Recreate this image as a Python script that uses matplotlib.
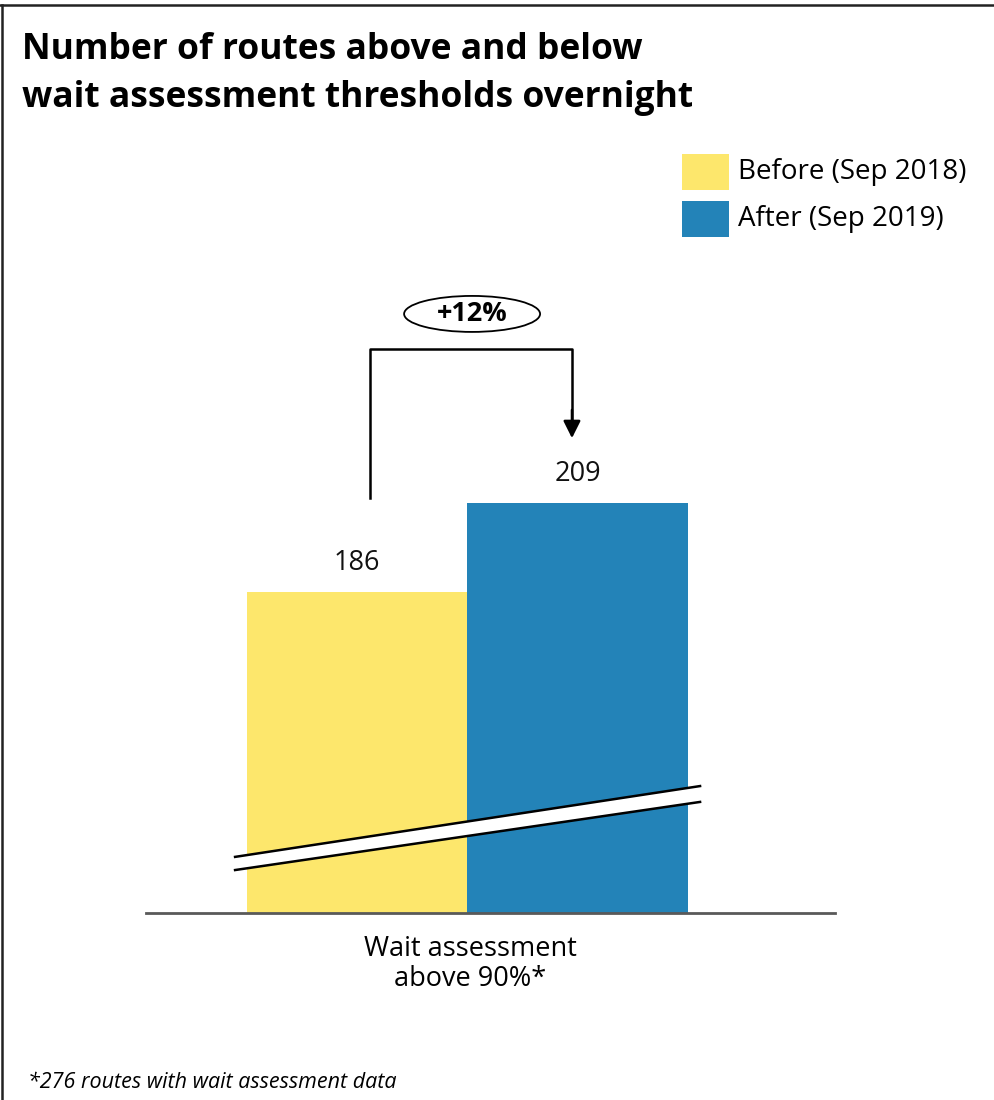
import matplotlib.pyplot as plt
from matplotlib.patches import Ellipse, Polygon, Rectangle
from matplotlib.lines import Line2D

plt.rcParams['font.family'] = ['Open Sans', 'DejaVu Sans']

# data
periods = ['Before (Sep 2018)', 'After (Sep 2019)']
routes = [186, 209]
colors = ['#FDE76C', '#2383B8']
category = 'Wait assessment\nabove 90%*'
change_label = '+12%'
footnote = '*276 routes with wait assessment data'

fig = plt.figure(figsize=(9.95, 11), dpi=100)

# axes placed in pixel terms: x 146..835, y 300..913 (from top)
W, H = 995, 1100
ax = fig.add_axes([146 / W, 1 - 913 / H, (835 - 146) / W, (913 - 300) / H])

y0 = 103  # broken axis: bars start from here
ax.bar([0, 1], routes, width=1, color=colors, bottom=0, zorder=1)
ax.set_xlim(-0.957, 2.168)
ax.set_ylim(y0, y0 + (913 - 300) / 3.87)

for i, v in enumerate(routes):
    ax.text(i, v + 7.5, str(v), ha='center', va='center', fontsize=19.5, color='#111111')

# axis break band
band = Polygon([(-0.553, 117.5), (1.556, 135.8), (1.556, 131.7), (-0.553, 114.1)],
               closed=True, facecolor='white', edgecolor='none', zorder=3)
ax.add_patch(band)
ax.plot([-0.553, 1.556], [117.5, 135.8], color='black', lw=1.8, zorder=4)
ax.plot([-0.553, 1.556], [114.1, 131.7], color='black', lw=1.8, zorder=4)

# change bracket
ax.plot([0.059, 0.059, 0.975, 0.975], [210.2, 248.7, 248.7, 230.5],
        color='black', lw=1.8, clip_on=False, zorder=5)
ax.annotate('', xy=(0.975, 225.7), xytext=(0.975, 233),
            arrowprops=dict(arrowstyle='-|>', color='black', lw=1.8,
                            mutation_scale=26, shrinkA=0, shrinkB=0),
            annotation_clip=False)
ell = Ellipse((0.522, 257.8), width=136 / 220.5, height=36 / 3.87,
              facecolor='white', edgecolor='black', lw=1.3, clip_on=False, zorder=5)
ax.add_patch(ell)
ax.text(0.522, 257.8, change_label, ha='center', va='center', fontsize=19.5,
        fontweight='bold', zorder=6)

for s in ['top', 'right', 'left']:
    ax.spines[s].set_visible(False)
ax.spines['bottom'].set_color('#595959')
ax.spines['bottom'].set_linewidth(2)
ax.spines['bottom'].set_zorder(6)
ax.set_xticks([])
ax.set_yticks([])

fig.text(470 / W, 1 - 964 / H, category, ha='center', va='center',
         fontsize=19.5, linespacing=1.05)

# legend
legend_y = [172, 219]
for lab, col, yy in zip(periods, colors, legend_y):
    fig.patches.append(Rectangle((682 / W, 1 - (yy + 18) / H), 47 / W, 36 / H,
                                 transform=fig.transFigure, facecolor=col,
                                 edgecolor='none'))
    fig.text(738 / W, 1 - yy / H, lab, ha='left', va='center', fontsize=20)

# title
fig.text(22 / W, 1 - 50 / H, 'Number of routes above and below', ha='left',
         va='center', fontsize=25.5, fontweight='bold')
fig.text(22 / W, 1 - 98 / H, 'wait assessment thresholds overnight', ha='left',
         va='center', fontsize=25.5, fontweight='bold')

fig.text(28 / W, 1 - 1082 / H, footnote, ha='left', va='center', fontsize=15.5,
         style='italic')

# frame
fig.lines.append(Line2D([0, 1], [1 - 5 / H, 1 - 5 / H], transform=fig.transFigure,
                        color='#222222', lw=1.8))
fig.lines.append(Line2D([2 / W, 2 / W], [0, 1 - 5 / H], transform=fig.transFigure,
                        color='#222222', lw=1.8))

fig.savefig('out.png', dpi=100)
